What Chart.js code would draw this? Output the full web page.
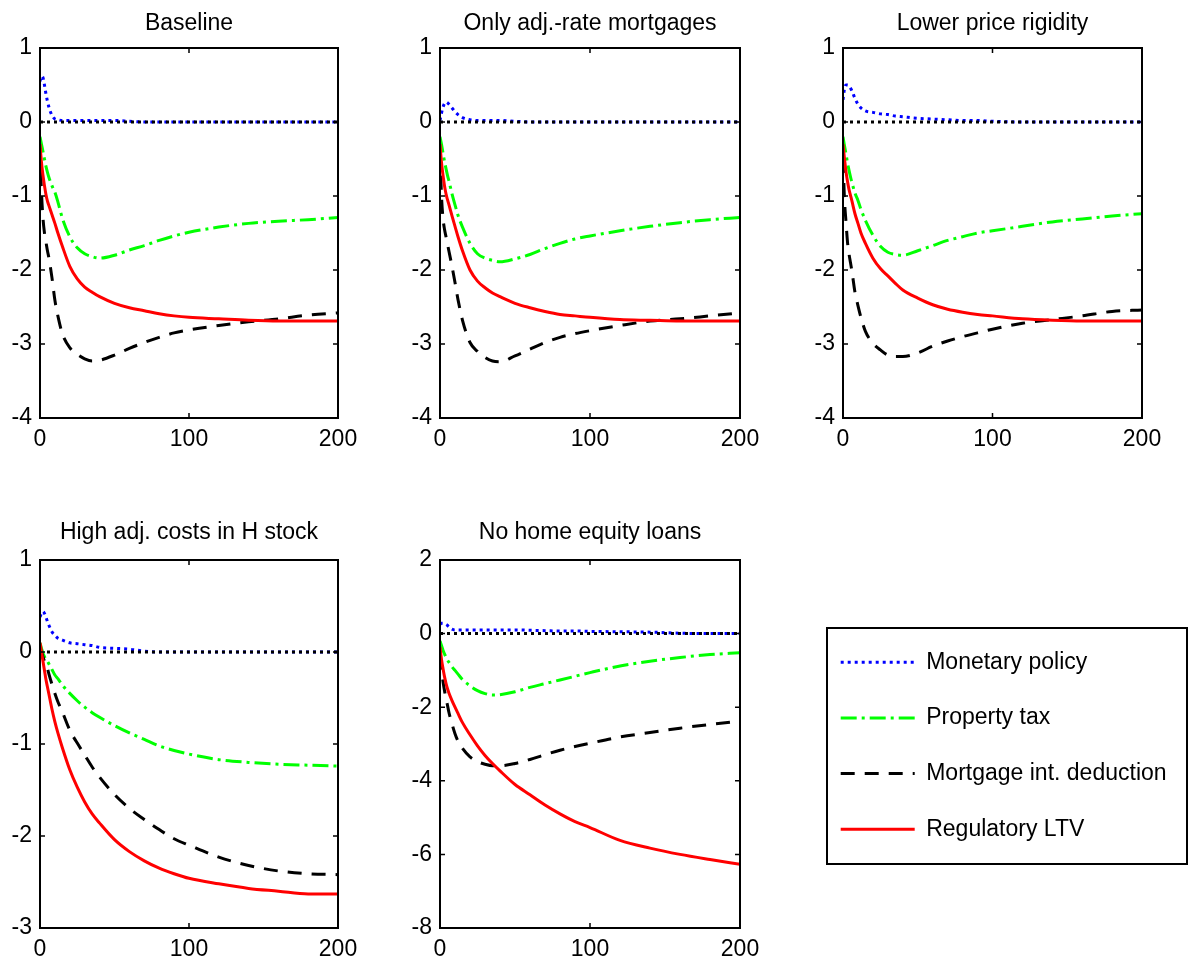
<!DOCTYPE html>
<html>
<head>
<meta charset="utf-8">
<title>Impulse responses by policy</title>
<script src="https://cdn.jsdelivr.net/npm/chart.js@4.4.1/dist/chart.umd.min.js"></script>
<style>
  html, body { margin: 0; padding: 0; background: #fff; overflow: hidden; }
  body { width: 1196px; height: 962px; position: relative; }
  .panel { position: absolute; }
  #legendFrame {
    position: absolute; left: 826px; top: 627px; width: 362px; height: 238px;
    border: 2px solid #000; box-sizing: border-box;
  }
</style>
</head>
<body>
<div id="legendFrame"></div>
<script>
// quarters after the shock
const periods = [0, 1, 2, 3, 4, 5, 6, 8, 10, 12, 15, 20, 25, 30, 35, 40, 50, 60, 70, 80, 90, 100, 120, 140, 160, 180, 200];

const titles = ['Baseline', 'Only adj.-rate mortgages', 'Lower price rigidity', 'High adj. costs in H stock', 'No home equity loans'];
const seriesNames = ['Monetary policy', 'Property tax', 'Mortgage int. deduction', 'Regulatory LTV'];

const yMin = [-4, -4, -4, -3, -8];
const yMax = [1, 1, 1, 1, 2];
const yStep = [1, 1, 1, 1, 2];

// Baseline
const baseMonetary = [0.55, 0.62, 0.6, 0.5, 0.38, 0.28, 0.2, 0.09, 0.04, 0.03, 0.02, 0.02, 0.02, 0.02, 0.02, 0.02, 0.02, 0.01, 0, 0, 0, 0, 0, 0, 0, 0, 0];
const baseTax = [-0.2, -0.3, -0.4, -0.5, -0.6, -0.68, -0.75, -0.86, -0.95, -1.08, -1.3, -1.55, -1.7, -1.78, -1.82, -1.84, -1.8, -1.73, -1.67, -1.6, -1.54, -1.49, -1.42, -1.37, -1.34, -1.32, -1.29];
const baseDeduction = [-0.35, -0.95, -1.3, -1.5, -1.62, -1.74, -1.84, -2.1, -2.41, -2.62, -2.86, -3.05, -3.14, -3.2, -3.23, -3.22, -3.15, -3.06, -2.98, -2.91, -2.85, -2.81, -2.75, -2.7, -2.66, -2.61, -2.58];
const baseLtv = [-0.3, -0.55, -0.72, -0.86, -0.98, -1.07, -1.13, -1.25, -1.37, -1.5, -1.68, -1.95, -2.12, -2.23, -2.3, -2.36, -2.45, -2.51, -2.55, -2.59, -2.62, -2.64, -2.66, -2.68, -2.69, -2.69, -2.69];

// Only adjustable-rate mortgages
const armMonetary = [0.02, 0.12, 0.2, 0.25, 0.27, 0.26, 0.24, 0.19, 0.14, 0.1, 0.06, 0.03, 0.02, 0.02, 0.02, 0.02, 0.01, 0, 0, 0, 0, 0, 0, 0, 0, 0, 0];
const armTax = [-0.2, -0.3, -0.42, -0.53, -0.63, -0.72, -0.8, -0.97, -1.12, -1.26, -1.42, -1.64, -1.78, -1.84, -1.87, -1.89, -1.85, -1.79, -1.71, -1.64, -1.58, -1.54, -1.47, -1.41, -1.36, -1.32, -1.29];
const armDeduction = [-0.4, -1.0, -1.3, -1.45, -1.55, -1.65, -1.75, -1.95, -2.17, -2.4, -2.68, -2.98, -3.1, -3.18, -3.23, -3.24, -3.16, -3.07, -2.98, -2.91, -2.86, -2.82, -2.75, -2.69, -2.66, -2.62, -2.58];
const armLtv = [-0.3, -0.55, -0.72, -0.86, -0.97, -1.05, -1.12, -1.27, -1.41, -1.55, -1.74, -2.0, -2.15, -2.24, -2.31, -2.36, -2.45, -2.51, -2.56, -2.6, -2.62, -2.64, -2.67, -2.68, -2.69, -2.69, -2.69];

// Lower price rigidity
const flexMonetary = [0.3, 0.45, 0.5, 0.5, 0.49, 0.46, 0.42, 0.32, 0.24, 0.19, 0.15, 0.13, 0.11, 0.1, 0.08, 0.07, 0.05, 0.04, 0.03, 0.02, 0.02, 0.01, 0, 0, 0, 0, 0];
const flexTax = [-0.2, -0.32, -0.43, -0.55, -0.65, -0.74, -0.82, -0.96, -1.06, -1.18, -1.33, -1.53, -1.68, -1.76, -1.79, -1.8, -1.74, -1.67, -1.6, -1.55, -1.5, -1.47, -1.41, -1.35, -1.31, -1.27, -1.24];
const flexDeduction = [-0.5, -1.05, -1.35, -1.62, -1.78, -1.9, -2.02, -2.3, -2.48, -2.64, -2.83, -2.99, -3.08, -3.15, -3.17, -3.17, -3.12, -3.03, -2.96, -2.9, -2.85, -2.8, -2.72, -2.67, -2.62, -2.56, -2.54];
const flexLtv = [-0.3, -0.5, -0.67, -0.8, -0.91, -0.99, -1.07, -1.24, -1.37, -1.5, -1.64, -1.84, -1.98, -2.08, -2.18, -2.27, -2.38, -2.47, -2.53, -2.57, -2.6, -2.62, -2.66, -2.68, -2.69, -2.69, -2.69];

// High adjustment costs in housing stock
const adjMonetary = [0.38, 0.42, 0.44, 0.42, 0.38, 0.33, 0.29, 0.22, 0.18, 0.15, 0.13, 0.1, 0.09, 0.08, 0.07, 0.05, 0.04, 0.03, 0.01, 0, 0, 0, 0, 0, 0, 0, 0];
const adjTax = [0.1, 0.04, -0.01, -0.05, -0.08, -0.1, -0.13, -0.19, -0.25, -0.29, -0.36, -0.45, -0.53, -0.6, -0.66, -0.71, -0.8, -0.88, -0.95, -1.02, -1.07, -1.11, -1.17, -1.2, -1.22, -1.23, -1.24];
const adjDeduction = [0.05, 0.0, -0.05, -0.1, -0.14, -0.18, -0.24, -0.35, -0.45, -0.54, -0.65, -0.85, -0.99, -1.12, -1.25, -1.36, -1.55, -1.7, -1.82, -1.93, -2.03, -2.1, -2.23, -2.32, -2.38, -2.41, -2.42];
const adjLtv = [0.1, 0.0, -0.1, -0.2, -0.3, -0.38, -0.46, -0.62, -0.76, -0.88, -1.04, -1.28, -1.47, -1.63, -1.76, -1.86, -2.04, -2.17, -2.27, -2.35, -2.41, -2.46, -2.52, -2.57, -2.6, -2.63, -2.63];

// No home equity loans
const nheMonetary = [0.25, 0.28, 0.28, 0.27, 0.25, 0.22, 0.18, 0.12, 0.1, 0.1, 0.1, 0.1, 0.1, 0.1, 0.1, 0.1, 0.1, 0.09, 0.08, 0.07, 0.07, 0.06, 0.05, 0.04, 0.01, 0, 0];
const nheTax = [-0.2, -0.32, -0.45, -0.55, -0.64, -0.72, -0.78, -0.9, -1.0, -1.1, -1.25, -1.42, -1.55, -1.63, -1.67, -1.66, -1.58, -1.46, -1.36, -1.26, -1.16, -1.06, -0.88, -0.75, -0.65, -0.57, -0.52];
const nheDeduction = [-0.6, -1.0, -1.3, -1.55, -1.75, -1.95, -2.15, -2.45, -2.72, -2.92, -3.12, -3.35, -3.48, -3.55, -3.59, -3.59, -3.53, -3.42, -3.29, -3.17, -3.07, -2.98, -2.81, -2.69, -2.57, -2.47, -2.38];
const nheLtv = [-0.36, -0.7, -0.95, -1.17, -1.35, -1.5, -1.62, -1.82, -2.0, -2.17, -2.42, -2.75, -3.05, -3.31, -3.53, -3.73, -4.1, -4.38, -4.66, -4.9, -5.11, -5.27, -5.62, -5.83, -6.0, -6.14, -6.27];

const zeroLine = periods.map(() => 0);

const panelSeries = [
  [baseMonetary, baseTax, baseDeduction, baseLtv],
  [armMonetary, armTax, armDeduction, armLtv],
  [flexMonetary, flexTax, flexDeduction, flexLtv],
  [adjMonetary, adjTax, adjDeduction, adjLtv],
  [nheMonetary, nheTax, nheDeduction, nheLtv]
];

// line styles, one per policy
const seriesColors = ['#0000ff', '#00ff00', '#000000', '#ff0000'];
const seriesDash = [[3, 4], [16, 5, 3, 5], [14, 10], []];
const seriesOrder = [4, 2, 1, 0];

// plot-area rectangles (left, top, width, height) and title offset
const plotBoxes = [
  [40, 48, 298, 370, 10],
  [440, 48, 300, 370, 10],
  [843, 48, 299, 370, 10],
  [40, 560, 298, 368, 7],
  [440, 560, 300, 368, 7]
];

const FONT = "'Liberation Sans', Arial, Helvetica, sans-serif";
Chart.defaults.font.family = FONT;
Chart.defaults.font.size = 23;
Chart.defaults.color = '#000';

const TITLE_H = 48, XAXIS_H = 40, YAXIS_W = 40, RIGHT_PAD = 40;

// box around the axes with inward tick marks on all four sides
const axesBox = {
  id: 'axesBox',
  afterDatasetsDraw(chart) {
    const { ctx, chartArea: a, scales: { x, y } } = chart;
    ctx.save();
    ctx.strokeStyle = '#000';
    ctx.lineWidth = 1.5;
    ctx.setLineDash([]);
    ctx.beginPath();
    y.ticks.forEach(t => {
      const py = y.getPixelForValue(t.value);
      ctx.moveTo(a.left, py); ctx.lineTo(a.left + 5, py);
      ctx.moveTo(a.right, py); ctx.lineTo(a.right - 5, py);
    });
    x.ticks.forEach(t => {
      const px = x.getPixelForValue(t.value);
      ctx.moveTo(px, a.bottom); ctx.lineTo(px, a.bottom - 5);
      ctx.moveTo(px, a.top); ctx.lineTo(px, a.top + 5);
    });
    ctx.stroke();
    ctx.lineWidth = 2;
    ctx.strokeRect(a.left, a.top, a.right - a.left, a.bottom - a.top);
    ctx.restore();
  }
};

function makePanel(i) {
  const [left, top, w, h, titleTop] = plotBoxes[i];
  const wrap = document.createElement('div');
  wrap.className = 'panel';
  const cw = YAXIS_W + w + RIGHT_PAD;
  const ch = TITLE_H + h + XAXIS_H;
  wrap.style.left = (left - YAXIS_W) + 'px';
  wrap.style.top = (top - TITLE_H) + 'px';
  wrap.style.width = cw + 'px';
  wrap.style.height = ch + 'px';
  const canvas = document.createElement('canvas');
  canvas.width = cw;
  canvas.height = ch;
  wrap.appendChild(canvas);
  document.body.appendChild(wrap);

  const datasets = panelSeries[i].map((vals, j) => ({
    label: seriesNames[j],
    data: periods.map((t, k) => ({ x: t, y: vals[k] })),
    borderColor: seriesColors[j],
    borderWidth: 3,
    borderDash: seriesDash[j],
    borderCapStyle: 'butt',
    pointRadius: 0,
    fill: false,
    cubicInterpolationMode: 'monotone',
    order: seriesOrder[j]
  }));
  datasets.push({
    label: 'zero',
    data: periods.map((t, k) => ({ x: t, y: zeroLine[k] })),
    borderColor: '#000',
    borderWidth: 3,
    borderDash: [3, 4],
    pointRadius: 0,
    fill: false,
    order: 3
  });

  new Chart(canvas, {
    type: 'line',
    data: { datasets },
    plugins: [axesBox],
    options: {
      responsive: false,
      animation: false,
      events: [],
      layout: { padding: { left: 0, right: RIGHT_PAD, top: 0, bottom: 0 } },
      plugins: {
        legend: { display: false },
        tooltip: { enabled: false },
        title: {
          display: true,
          fullSize: false,
          text: titles[i],
          color: '#000',
          font: { size: 23, weight: 'normal', lineHeight: '28px' },
          padding: { top: titleTop, bottom: TITLE_H - 28 - titleTop }
        }
      },
      scales: {
        x: {
          type: 'linear',
          min: 0,
          max: 200,
          ticks: { stepSize: 100, padding: 8, maxRotation: 0, color: '#000', font: { size: 23 } },
          grid: { display: false, drawTicks: false },
          border: { display: false },
          afterFit: s => { s.height = XAXIS_H; }
        },
        y: {
          min: yMin[i],
          max: yMax[i],
          ticks: { stepSize: yStep[i], padding: 8, color: '#000', font: { size: 23 } },
          grid: { display: false, drawTicks: false },
          border: { display: false },
          afterFit: s => { s.width = YAXIS_W; }
        }
      }
    }
  });
}

titles.forEach((_, i) => makePanel(i));

// legend: a chart with the four series and no data, only its legend shown
const legendWrap = document.createElement('div');
legendWrap.className = 'panel';
legendWrap.style.left = '808px';
legendWrap.style.top = '618px';
const legendCanvas = document.createElement('canvas');
legendCanvas.width = 380;
legendCanvas.height = 300;
legendWrap.appendChild(legendCanvas);
document.body.appendChild(legendWrap);

new Chart(legendCanvas, {
  type: 'line',
  data: {
    datasets: seriesNames.map((name, j) => ({
      label: name,
      data: [],
      borderColor: seriesColors[j],
      borderWidth: 3,
      borderDash: seriesDash[j]
    }))
  },
  options: {
    responsive: false,
    animation: false,
    events: [],
    scales: { x: { display: false }, y: { display: false } },
    plugins: {
      tooltip: { enabled: false },
      legend: {
        position: 'top',
        align: 'start',
        maxHeight: 300,
        labels: {
          usePointStyle: true,
          pointStyleWidth: 74,
          padding: 32.7,
          color: '#000',
          font: { size: 23 },
          generateLabels: chart => chart.data.datasets.map((d, j) => ({
            text: d.label,
            strokeStyle: d.borderColor,
            fillStyle: d.borderColor,
            lineWidth: d.borderWidth,
            lineDash: d.borderDash,
            lineCap: 'butt',
            pointStyle: 'line',
            fontColor: '#000',
            hidden: false,
            datasetIndex: j
          }))
        }
      }
    }
  }
});
</script>
</body>
</html>
